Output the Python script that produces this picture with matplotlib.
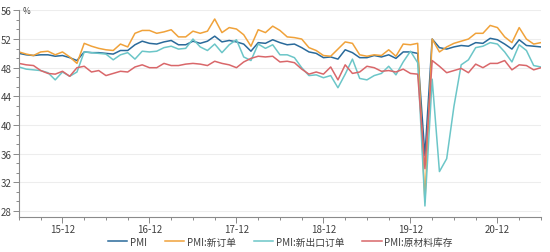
import matplotlib
matplotlib.use('Agg')
import matplotlib.pyplot as plt
import numpy as np
from matplotlib.ticker import MultipleLocator, FixedLocator

plt.rcParams['font.family'] = ['Noto Sans CJK SC', 'DejaVu Sans']

# Monthly data, 2015-06 .. 2021-06
pmi = [50.0, 49.8, 49.7, 49.8, 49.8, 49.6, 49.7,
       49.4, 49.0, 50.2, 50.1, 50.1, 50.0, 49.9, 50.4, 50.4, 51.2, 51.7, 51.4,
       51.3, 51.6, 51.8, 51.2, 51.2, 51.7, 51.4, 51.7, 52.4, 51.6, 51.8, 51.6,
       51.3, 50.3, 51.5, 51.4, 51.9, 51.5, 51.2, 51.3, 50.8, 50.2, 50.0, 49.4,
       49.5, 49.2, 50.5, 50.1, 49.4, 49.4, 49.7, 49.5, 49.8, 49.3, 50.2, 50.2,
       50.0, 35.7, 52.0, 50.8, 50.6, 50.9, 51.1, 51.0, 51.5, 51.4, 52.1, 51.9,
       51.3, 50.6, 51.9, 51.1, 51.0, 50.9]
new_orders = [50.2, 49.9, 49.7, 50.2, 50.3, 49.8, 50.2,
              49.5, 48.6, 51.4, 51.0, 50.7, 50.5, 50.4, 51.3, 50.9, 52.8, 53.2, 53.2,
              52.8, 53.0, 53.3, 52.3, 52.3, 53.1, 52.8, 53.1, 54.8, 52.9, 53.6, 53.4,
              52.6, 51.0, 53.3, 52.9, 53.8, 53.2, 52.3, 52.2, 52.0, 50.8, 50.4, 49.7,
              49.6, 50.6, 51.6, 51.4, 49.8, 49.6, 49.8, 49.7, 50.5, 49.6, 51.3, 51.2,
              51.4, 29.3, 52.0, 50.2, 50.9, 51.4, 51.7, 52.0, 52.8, 52.8, 53.9, 53.6,
              52.3, 51.5, 53.6, 52.0, 51.3, 51.5]
export_orders = [48.1, 47.8, 47.7, 47.6, 47.3, 46.3, 47.4,
                 46.8, 47.4, 50.2, 50.1, 50.0, 49.9, 49.1, 49.8, 50.1, 49.2, 50.3, 50.2,
                 50.3, 50.8, 51.0, 50.6, 50.7, 52.0, 50.9, 50.4, 51.3, 50.1, 51.2, 51.9,
                 49.5, 49.0, 51.3, 50.7, 51.2, 49.8, 49.8, 49.4, 48.0, 46.9, 47.0, 46.6,
                 46.9, 45.2, 47.1, 49.2, 46.5, 46.3, 46.9, 47.2, 48.2, 47.0, 48.8, 50.3,
                 48.7, 28.7, 46.4, 33.5, 35.3, 42.6, 48.4, 49.1, 50.8, 51.0, 51.5, 51.3,
                 50.2, 48.8, 51.2, 50.4, 48.3, 48.1]
inventory = [48.6, 48.4, 48.3, 47.6, 47.2, 47.1, 47.5,
             46.8, 48.0, 48.2, 47.4, 47.6, 46.9, 47.2, 47.5, 47.4, 48.1, 48.4, 48.0,
             48.0, 48.6, 48.3, 48.3, 48.5, 48.6, 48.5, 48.3, 48.9, 48.6, 48.4, 48.0,
             48.8, 49.3, 49.6, 49.5, 49.6, 48.8, 48.9, 48.7, 47.8, 47.1, 47.4, 47.1,
             48.1, 46.3, 48.4, 47.2, 47.4, 48.2, 48.0, 47.5, 47.6, 47.4, 47.8, 47.2,
             47.1, 33.9, 49.0, 48.2, 47.3, 47.6, 47.9, 47.3, 48.5, 48.0, 48.6, 48.6,
             49.0, 47.7, 48.4, 48.3, 47.7, 48.0]

series_names = ['PMI', 'PMI:新订单', 'PMI:新出口订单', 'PMI:原材料库存']
colors = ['#2a6a9a', '#f0a23a', '#6cc6c8', '#d9676a']
tick_labels = ['15-12', '16-12', '17-12', '18-12', '19-12', '20-12']
tick_pos = [6, 18, 30, 42, 54, 66]

fig = plt.figure(figsize=(5.5, 2.53), dpi=100)
ax = fig.add_axes([0.0345, 0.1395, 0.949, 0.8155])
x = np.arange(len(pmi))
lines = []
for data, name, c in zip([pmi, new_orders, export_orders, inventory], series_names, colors):
    l, = ax.plot(x, data, color=c, lw=1.1, label=name)
    lines.append(l)

ax.set_xlim(0, len(pmi) - 1)
ax.set_ylim(27.2, 56)
ax.set_yticks(range(28, 57, 4))
ax.yaxis.set_minor_locator(MultipleLocator(4 / 3))
ax.set_xticks(tick_pos)
ax.set_xticklabels(tick_labels)
ax.xaxis.set_minor_locator(FixedLocator(list(range(0, len(pmi), 3))))

for s in ['top', 'right']:
    ax.spines[s].set_visible(False)
for s in ['left', 'bottom']:
    ax.spines[s].set_color('#8a8a8a')
    ax.spines[s].set_linewidth(0.8)

ax.tick_params(axis='both', which='major', direction='out', length=4, width=0.7,
               color='#8a8a8a', labelsize=7, labelcolor='#404040', pad=1.5)
ax.tick_params(axis='both', which='minor', direction='out', length=2.5, width=0.7,
               color='#8a8a8a')
ax.yaxis.grid(True, which='major', color='#ededed', lw=0.8)
ax.set_axisbelow(True)

fig.text(0.042, 0.955, '%', fontsize=6, va='center', ha='left', color='#404040')

fig.legend(lines, series_names, loc='center', bbox_to_anchor=(0.51, 0.04), ncol=4,
           frameon=False, fontsize=7, handlelength=2.0, columnspacing=1.8,
           handletextpad=0.3, labelcolor='#404040')

fig.savefig('out.png', dpi=100)
